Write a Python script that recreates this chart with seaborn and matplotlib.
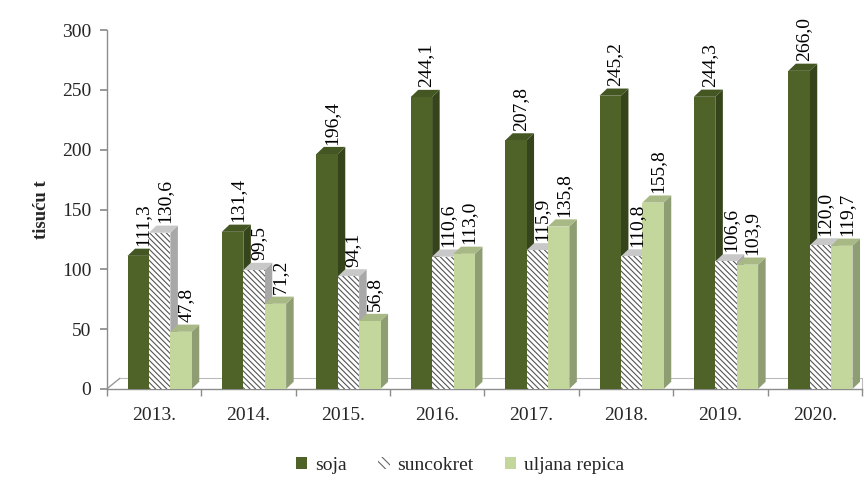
import matplotlib
matplotlib.use("Agg")
import matplotlib.pyplot as plt
import seaborn as sns
import pandas as pd
import numpy as np
from matplotlib.patches import Polygon, Patch

years = ["2013.", "2014.", "2015.", "2016.", "2017.", "2018.", "2019.", "2020."]
soja = [111.3, 131.4, 196.4, 244.1, 207.8, 245.2, 244.3, 266.0]
suncokret = [130.6, 99.5, 94.1, 110.6, 115.9, 110.8, 106.6, 120.0]
uljana_repica = [47.8, 71.2, 56.8, 113.0, 135.8, 155.8, 103.9, 119.7]
series_names = ["soja", "suncokret", "uljana repica"]
yticks = [0, 50, 100, 150, 200, 250, 300]

front = {"soja": "#4F6228", "suncokret": "#FFFFFF", "uljana repica": "#C3D69B"}
side = {"soja": "#35441A", "suncokret": "#A8A8A8", "uljana repica": "#8F9D73"}
top = {"soja": "#445622", "suncokret": "#C8C8C8", "uljana repica": "#A9B985"}

df = pd.DataFrame({
    "year": years * 3,
    "series": ["soja"] * 8 + ["suncokret"] * 8 + ["uljana repica"] * 8,
    "value": soja + suncokret + uljana_repica,
})

sns.set_theme(style="white")
plt.rcParams["font.family"] = ["Liberation Serif", "DejaVu Serif"]
plt.rcParams["hatch.color"] = "#555555"
plt.rcParams["hatch.linewidth"] = 0.8

fig = plt.figure(figsize=(8.68, 4.79), dpi=100)
ax = fig.add_axes([0.123, 0.188, 0.870, 0.749])

sns.barplot(data=df, x="year", y="value", hue="series", palette=front,
            width=0.68, ax=ax, legend=False, saturation=1, zorder=3)

dx = 0.08
dy = 6.0
for i, cont in enumerate(ax.containers):
    name = series_names[i]
    vals = [soja, suncokret, uljana_repica][i]
    for j, p in enumerate(cont):
        p.set_linewidth(0)
        x0 = p.get_x() + 0.06
        w = p.get_width()
        h = p.get_height()
        p.set_x(x0)
        if name == "suncokret":
            p.set_hatch("\\\\\\\\\\\\")
            p.set_edgecolor("#555555")
        ax.add_patch(Polygon([[x0 + w, 0], [x0 + w + dx, dy], [x0 + w + dx, h + dy], [x0 + w, h]],
                             closed=True, facecolor=side[name], edgecolor="none", zorder=2,
                             hatch="...." if name == "suncokret" else None))
        ax.add_patch(Polygon([[x0, h], [x0 + dx, h + dy], [x0 + w + dx, h + dy], [x0 + w, h]],
                             closed=True, facecolor=top[name], edgecolor="none", zorder=2,
                             hatch="...." if name == "suncokret" else None))
        ax.text(x0 + w / 2 + dx / 2 + 0.01, h + dy + 2, f"{vals[j]:.1f}".replace(".", ","),
                rotation=90, ha="center", va="bottom", fontsize=14, color="black", zorder=5)

# floor
ax.plot([-0.5, -0.5 + 0.14], [0, 9], color="#999999", lw=1, zorder=1, clip_on=False)
ax.plot([-0.5 + 0.14, 7.5], [9, 9], color="#BBBBBB", lw=0.8, zorder=1, clip_on=False)
ax.plot([7.5, 7.5], [0, 9], color="#BBBBBB", lw=0.8, zorder=1, clip_on=False)

ax.set_xlim(-0.5, 7.5)
ax.set_ylim(0, 300)
ax.set_yticks(yticks)
ax.set_yticklabels([str(v) for v in yticks], fontsize=14)
ax.set_xticks(range(len(years)))
ax.set_xticklabels(years, fontsize=14)
ax.set_xlabel("")
ax.set_ylabel("tisuću t", fontsize=13.5, fontweight="bold", labelpad=9)
for s in ["top", "right"]:
    ax.spines[s].set_visible(False)
for s in ["left", "bottom"]:
    ax.spines[s].set_color("#8C8C8C")
    ax.spines[s].set_linewidth(1)
ax.tick_params(axis="y", which="both", left=True, length=5, color="#8C8C8C", pad=6)
ax.tick_params(axis="x", which="major", bottom=False, pad=7)
ax.set_xticks(np.arange(-0.5, 8.0, 1.0), minor=True)
ax.tick_params(axis="x", which="minor", bottom=True, length=5, color="#8C8C8C")

handles = [Patch(facecolor=front["soja"], edgecolor="none"),
           Patch(facecolor="white", edgecolor="#666666", hatch="\\\\\\\\", linewidth=0),
           Patch(facecolor=front["uljana repica"], edgecolor="none")]
fig.legend(handles, series_names, loc="center", bbox_to_anchor=(0.53, 0.028),
           ncol=3, frameon=False, prop={"family": "Liberation Serif", "size": 14},
           handlelength=0.6, handleheight=0.6, handletextpad=0.4, columnspacing=1.6)

fig.savefig("out.png", dpi=100)
